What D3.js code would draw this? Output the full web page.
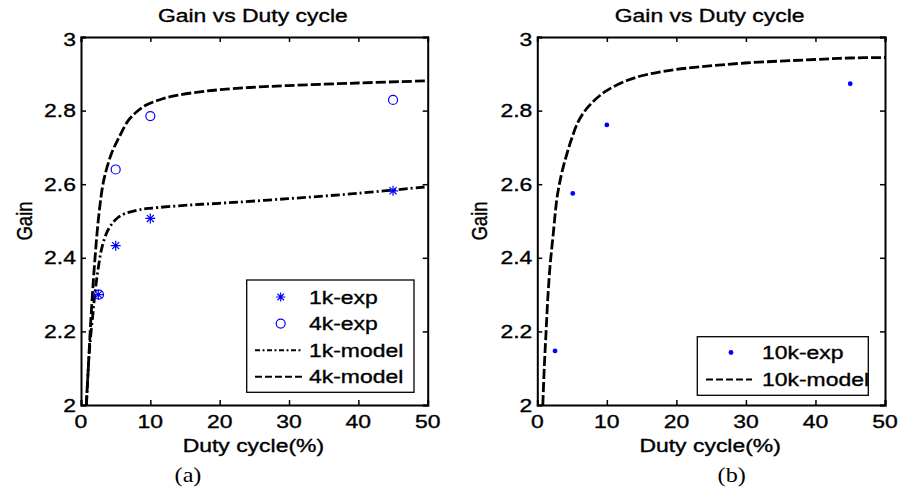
<!DOCTYPE html>
<html>
<head>
<meta charset="utf-8">
<script src="https://cdn.jsdelivr.net/npm/d3@7"></script>
<style>
  html, body { margin: 0; padding: 0; background: #fff; }
  svg { display: block; }
</style>
</head>
<body>
<svg id="fig" width="899" height="493"></svg>
<script>
// ---- data (Duty cycle in %, Gain) ----
const xTicks = [0, 10, 20, 30, 40, 50];
const yTicks = [2, 2.2, 2.4, 2.6, 2.8, 3];
const yTickLabels = ["2", "2.2", "2.4", "2.6", "2.8", "3"];

// panel (a): measured points
const exp1kDuty = [2.5, 5, 10, 45];
const exp1kGain = [2.30, 2.433, 2.507, 2.582];
const exp4kDuty = [2.6, 5, 10, 45];
const exp4kGain = [2.30, 2.64, 2.785, 2.829];

// panel (a): model curves
const model1kDuty = [0.79, 0.909, 1.255, 1.731, 2.062, 2.452, 2.928, 3.389, 3.894, 4.615, 5.336, 6.346, 8.22, 9.95, 15.72, 19.9, 29.85, 39.95, 50];
const model1kGain = [2.0, 2.05, 2.158, 2.25, 2.3125, 2.367, 2.421, 2.452, 2.4755, 2.496, 2.5095, 2.5204, 2.53, 2.5345, 2.5435, 2.548, 2.5606, 2.5753, 2.5932];
const model4kDuty = [0.764, 1.053, 1.327, 1.644, 2.019, 2.481, 3.029, 3.418, 4.37, 5.581, 6.778, 8.076, 9.417, 11.68, 13.99, 17.16, 19.9, 24.37, 29.85, 39.95, 50];
const model4kGain = [2.0, 2.1005, 2.201, 2.299, 2.399, 2.5, 2.584, 2.622, 2.682, 2.731, 2.772, 2.7976, 2.815, 2.8315, 2.842, 2.851, 2.8565, 2.8628, 2.868, 2.875, 2.881];

// panel (b): measured points and model curve
const exp10kDuty = [2.55, 5.1, 10, 45];
const exp10kGain = [2.147, 2.575, 2.761, 2.873];
const model10kDuty = [0.79, 0.82, 1.007, 1.251, 1.496, 1.826, 2.301, 2.79, 3.149, 3.552, 4.228, 4.947, 5.896, 7.334, 9.735, 13.086, 15.488, 17.645, 19.946, 23.397, 29.868, 39.934, 44.967, 50];
const model10kGain = [2.0, 2.0136, 2.104, 2.1948, 2.2853, 2.3758, 2.4666, 2.557, 2.5978, 2.6332, 2.6807, 2.7242, 2.7704, 2.8106, 2.8514, 2.8832, 2.8967, 2.9049, 2.9117, 2.919, 2.9293, 2.9389, 2.943, 2.9443];

// ---- styling ----
const FONT = "'Liberation Sans', Arial, sans-serif";
const FS = 18.5;      // base font size
const SX = 1.24;      // horizontal text stretch
const BLUE = "#0000ff";

const svg = d3.select("#fig");

function addText(g, x, y, str, anchor, opts = {}) {
  const t = g.append("text")
    .attr("transform", `translate(${x},${y}) scale(${opts.sx || SX},1)` + (opts.rotate ? ` rotate(${opts.rotate})` : ""))
    .attr("text-anchor", anchor)
    .attr("font-family", opts.family || FONT)
    .attr("font-size", opts.size || FS)
    .attr("fill", "#000")
    .attr("stroke", "#000")
    .attr("stroke-width", opts.sw != null ? opts.sw : 0.35)
    .text(str);
  if (opts.dy) t.attr("dy", opts.dy);
  return t;
}

function star(g, cx, cy, r) {
  const d = r * Math.SQRT1_2;
  const p = d3.path();
  p.moveTo(cx - r, cy); p.lineTo(cx + r, cy);
  p.moveTo(cx, cy - r); p.lineTo(cx, cy + r);
  p.moveTo(cx - d, cy - d); p.lineTo(cx + d, cy + d);
  p.moveTo(cx - d, cy + d); p.lineTo(cx + d, cy - d);
  g.append("path").attr("d", p.toString())
    .attr("stroke", BLUE).attr("stroke-width", 1.2).attr("fill", "none");
}
function ring(g, cx, cy) {
  g.append("circle").attr("cx", cx).attr("cy", cy).attr("r", 4.5)
    .attr("fill", "none").attr("stroke", BLUE).attr("stroke-width", 1.2);
}
function dot(g, cx, cy) {
  g.append("circle").attr("cx", cx).attr("cy", cy).attr("r", 2.4).attr("fill", BLUE);
}

const STYLES = {
  dash:    { plot: "10,3",     legend: "7,3" },
  dashdot: { plot: "9,3,2,3", legend: "5,2.5,2,2.5" }
};

function drawPanel(p) {
  const g = svg.append("g");
  const x = d3.scaleLinear().domain([0, 50]).range([p.left, p.right]);
  const y = d3.scaleLinear().domain([2, 3]).range([p.bottom, p.top]);

  const clipId = "clip-" + p.id;
  svg.append("clipPath").attr("id", clipId).append("rect")
    .attr("x", p.left).attr("y", p.top)
    .attr("width", p.right - p.left).attr("height", p.bottom - p.top);

  // model curves
  const line = d3.line().x(d => x(d[0])).y(d => y(d[1])).curve(d3.curveCatmullRom.alpha(0.5));
  p.models.forEach(m => {
    const pts = m.duty.map((d, i) => [d, m.gain[i]]);
    g.append("path").datum(pts)
      .attr("clip-path", `url(#${clipId})`)
      .attr("d", line)
      .attr("fill", "none").attr("stroke", "#000")
      .attr("stroke-width", 2.8)
      .attr("stroke-dasharray", STYLES[m.style].plot);
  });

  // measured points
  p.points.forEach(s => {
    s.duty.forEach((d, i) => s.marker(g, x(d), y(s.gain[i]), 5));
  });

  // axes box with inward ticks on all sides
  const axB = d3.axisBottom(x).tickValues(xTicks).tickSize(-5).tickFormat("");
  const axT = d3.axisTop(x).tickValues(xTicks).tickSize(-5).tickFormat("");
  const axL = d3.axisLeft(y).tickValues(yTicks).tickSize(-5).tickFormat("");
  const axR = d3.axisRight(y).tickValues(yTicks).tickSize(-5).tickFormat("");
  [[axB, `translate(0,${p.bottom})`], [axT, `translate(0,${p.top})`],
   [axL, `translate(${p.left},0)`], [axR, `translate(${p.right},0)`]].forEach(([ax, tr]) => {
    const a = g.append("g").attr("transform", tr).call(ax);
    a.select(".domain").attr("stroke", "#000").attr("stroke-width", 2);
    a.selectAll(".tick line").attr("stroke", "#000").attr("stroke-width", 1.5);
  });

  // tick labels
  xTicks.forEach(v => addText(g, x(v), 428, String(v), "middle"));
  yTicks.forEach((v, i) => addText(g, p.left - 5, y(v) + (v === 3 ? 2 : 0), yTickLabels[i], "end", { dy: "0.36em" }));

  // titles and axis labels
  const cx = (p.left + p.right) / 2;
  addText(g, cx - 1.5, 22, "Gain vs Duty cycle", "middle");
  addText(g, cx - 1, 452, "Duty cycle(%)", "middle");
  addText(g, p.gainX, 221, "Gain", "middle", { rotate: -90 });
  addText(g, p.capX, 482, p.caption, "middle",
    { family: "'Liberation Serif', 'Times New Roman', serif", size: 22, sx: 1.1, sw: 0 });

  // legend
  const L = p.legend;
  g.append("rect").attr("x", L.x).attr("y", L.y).attr("width", L.w).attr("height", L.h)
    .attr("fill", "#fff").attr("stroke", "#000").attr("stroke-width", 1.3);
  L.rows.forEach((r, i) => {
    const ry = L.y0 + i * L.step;
    if (r.marker) {
      r.marker(g, L.mx, ry, 4.6);
    } else {
      g.append("line").attr("x1", L.lx0).attr("x2", L.lx1).attr("y1", ry).attr("y2", ry)
        .attr("stroke", "#000").attr("stroke-width", 2)
        .attr("stroke-dasharray", STYLES[r.style].legend);
    }
    addText(g, L.tx, ry, r.label, "start", { dy: "0.36em" });
  });
}

drawPanel({
  id: "a", left: 81, right: 427.7, top: 37, bottom: 405,
  gainX: 32, capX: 188, caption: "(a)",
  models: [
    { duty: model1kDuty, gain: model1kGain, style: "dashdot" },
    { duty: model4kDuty, gain: model4kGain, style: "dash" }
  ],
  points: [
    { duty: exp1kDuty, gain: exp1kGain, marker: star },
    { duty: exp4kDuty, gain: exp4kGain, marker: ring }
  ],
  legend: {
    x: 246.7, y: 280, w: 167.3, h: 112.3, y0: 297, step: 26.6,
    mx: 280.7, lx0: 255, lx1: 303, tx: 309,
    rows: [
      { label: "1k-exp", marker: star },
      { label: "4k-exp", marker: ring },
      { label: "1k-model", style: "dashdot" },
      { label: "4k-model", style: "dash" }
    ]
  }
});

drawPanel({
  id: "b", left: 537.3, right: 885, top: 37, bottom: 405,
  gainX: 487, capX: 731.7, caption: "(b)",
  models: [
    { duty: model10kDuty, gain: model10kGain, style: "dash" }
  ],
  points: [
    { duty: exp10kDuty, gain: exp10kGain, marker: dot }
  ],
  legend: {
    x: 697.3, y: 336.7, w: 171, h: 58.6, y0: 352.5, step: 27,
    mx: 731, lx0: 706, lx1: 752, tx: 762,
    rows: [
      { label: "10k-exp", marker: dot },
      { label: "10k-model", style: "dash" }
    ]
  }
});
</script>
</body>
</html>
